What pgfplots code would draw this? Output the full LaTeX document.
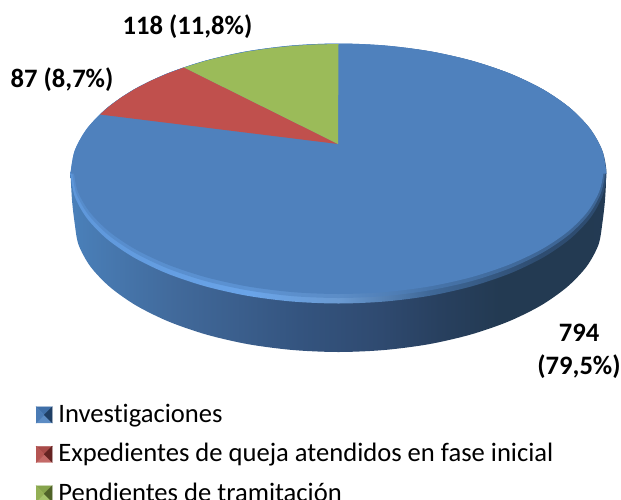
\documentclass[border=0pt]{standalone}
\usepackage{pgfplots}
\pgfplotsset{compat=1.18}
\usepackage{fontspec}
\setmainfont[Ligatures=NoCommon]{Carlito}
\definecolor{topblue}{HTML}{4F81BD}
\definecolor{sred}{HTML}{C0504D}
\definecolor{sgreen}{HTML}{9BBB59}
\definecolor{sa}{HTML}{4A80BA}\definecolor{sb}{HTML}{41699A}\definecolor{sc}{HTML}{34547F}
\definecolor{sd}{HTML}{2F4A70}\definecolor{se}{HTML}{28405F}\definecolor{sf}{HTML}{233A52}\definecolor{sg}{HTML}{223A54}
\definecolor{ra}{HTML}{5E97DA}\definecolor{rb}{HTML}{6AA4E8}\definecolor{rc}{HTML}{6A9AD2}
\definecolor{rd}{HTML}{3F6898}\definecolor{re}{HTML}{2E4C70}
\pgfdeclarehorizontalshading{sideshade}{100bp}{
 color(0bp)=(sa);color(25bp)=(sa);color(35bp)=(sb);color(46.4bp)=(sc);
 color(53.9bp)=(sd);color(59.4bp)=(se);color(65bp)=(sf);color(100bp)=(sg)}
\pgfdeclarehorizontalshading{rimshade}{100bp}{
 color(0bp)=(ra);color(25bp)=(ra);color(41.8bp)=(rb);color(50bp)=(rc);
 color(58.5bp)=(rd);color(68.8bp)=(re);color(100bp)=(re)}
\definecolor{ka}{HTML}{5C8CC4}\definecolor{kb}{HTML}{3F6FA8}\definecolor{kc}{HTML}{4A7BB5}\definecolor{kd}{HTML}{1F3F65}
\definecolor{la}{HTML}{C46A68}\definecolor{lb}{HTML}{A84A48}\definecolor{lc}{HTML}{B55552}\definecolor{ld}{HTML}{652322}
\definecolor{ma}{HTML}{A6C46C}\definecolor{mb}{HTML}{86A44C}\definecolor{mc}{HTML}{93B055}\definecolor{md}{HTML}{4F6328}
\newcommand{\pyr}[4]{%
 \fill[#1] (0pt,-9pt)--(16pt,-9pt)--(8pt,-1pt)--cycle;
 \fill[#2] (0pt,7pt)--(16pt,7pt)--(8pt,-1pt)--cycle;
 \fill[#3] (0pt,-9pt)--(0pt,7pt)--(8pt,-1pt)--cycle;
 \fill[#4] (16pt,-9pt)--(16pt,7pt)--(8pt,-1pt)--cycle;}
\begin{document}
\begin{tikzpicture}
\path[use as bounding box] (0,0) rectangle (621pt,499pt);
\begin{axis}[at={(0,0)},anchor=south west,scale only axis,width=621pt,height=499pt,
  xmin=0,xmax=621,ymin=0,ymax=499,y dir=reverse,hide axis,clip=false,
  legend cell align=left,
  legend style={at={(axis cs:36,403)},anchor=north west,draw=none,fill=none,
    font=\fontsize{26.6}{32}\selectfont,row sep=17.5pt,inner sep=0pt,outer sep=0pt,
    nodes={inner sep=1pt}}]
% side wall
\addplot[forget plot,draw=none,shading=sideshade,smooth] coordinates {
(70.5,173.5)(72,200)(74.5,222)(78.5,244.6)(90.4,266.5)(109.9,287)(136.3,305.6)(168.8,321.6)(206.5,334.6)(248.2,344.2)(292.7,350)(338.5,352)
(384.3,350)(428.8,344.2)(470.5,334.6)(508.2,321.6)(540.7,305.6)(567.1,287)(586.6,266.5)(598.5,244.6)(602.5,222)(605,200)(606.5,173.5)} --cycle;
% rim
\addplot[forget plot,draw=none,shading=rimshade,smooth] coordinates {
(70.5,173.5)(74.6,196.1)(86.7,218)(106.4,238.5)(133.2,257.1)(166.2,273.1)(204.5,286.1)(246.8,295.7)(292,301.5)(338.5,303.5)
(385,301.5)(430.2,295.7)(472.5,286.1)(510.8,273.1)(543.8,257.1)(570.6,238.5)(590.3,218)(602.4,196.1)(606.5,173.5)
(602.4,150.9)(590.3,129)(570.6,108.5)(543.8,89.9)(510.8,73.9)(472.5,60.9)(430.2,51.3)(385,45.5)(338.5,43.5)
(292,45.5)(246.8,51.3)(204.5,60.9)(166.2,73.9)(133.2,89.9)(106.4,108.5)(86.7,129)(74.6,150.9)(70.5,173.5)} --cycle;
% soft edge
\addplot[forget plot,draw=none,fill=topblue,fill opacity=0.5,smooth] coordinates {
(72,171)(76.1,193)(88.1,214.4)(107.7,234.5)(134.4,252.6)(167.2,268.3)(205.2,281)(247.4,290.3)(292.2,296.1)(338.5,298)
(384.8,296.1)(429.6,290.3)(471.8,281)(509.8,268.3)(542.6,252.6)(569.3,234.5)(588.9,214.4)(600.9,193)(605,171)
(600.9,149)(588.9,127.6)(569.3,107.5)(542.6,89.4)(509.8,73.7)(471.8,61)(429.6,51.7)(384.8,45.9)(338.5,44)
(292.2,45.9)(247.4,51.7)(205.2,61)(167.2,73.7)(134.4,89.4)(107.7,107.5)(88.1,127.6)(76.1,149)(72,171)} --cycle;
% upper half of the face out to the full edge
\addplot[forget plot,draw=none,fill=topblue,smooth] coordinates {
(606.5,173.5)(602.4,150.9)(590.3,129)(570.6,108.5)(543.8,89.9)(510.8,73.9)(472.5,60.9)(430.2,51.3)(385,45.5)(338.5,43.5)
(292,45.5)(246.8,51.3)(204.5,60.9)(166.2,73.9)(133.2,89.9)(106.4,108.5)(86.7,129)(74.6,150.9)(70.5,173.5)} --cycle;
% top face
\addplot[forget plot,draw=none,fill=topblue,smooth] coordinates {
(73.5,169)(77.5,190.7)(89.5,211.75)(109,231.5)(135.5,249.35)(168.2,264.75)(206,277.25)(247.9,286.5)(292.5,292.1)(338.5,294)
(384.5,292.1)(429.1,286.5)(471,277.25)(508.8,264.75)(541.5,249.35)(568,231.5)(587.5,211.75)(599.5,190.7)(603.5,169)
(599.5,147.3)(587.5,126.25)(568,106.5)(541.5,88.65)(508.8,73.25)(471,60.75)(429.1,51.5)(384.5,45.9)(338.5,44)
(292.5,45.9)(247.9,51.5)(206,60.75)(168.2,73.25)(135.5,88.65)(109,106.5)(89.5,126.25)(77.5,147.3)(73.5,169)} --cycle;
% slices
\addplot[forget plot,draw=none,fill=sred] coordinates {
(338,144)(100,114.5)(109,106.5)(121.4,97.3)(135.5,88.65)(151.1,80.6)(168.2,73.25)(184,67.5)} --cycle;
\addplot[forget plot,draw=none,fill=sgreen] coordinates {
(338,144)(184,67.5)(206,60.75)(226.5,55.7)(247.9,51.5)(269.9,48.3)(292.5,45.9)(315.4,44.5)(338.5,44)} --cycle;
% labels
\node[font=\fontsize{26.6}{32}\selectfont\bfseries,anchor=center] at (axis cs:187.5,27) {118 (11,8\%)};
\node[font=\fontsize{26.6}{32}\selectfont\bfseries,anchor=center] at (axis cs:62,80) {87 (8,7\%)};
\node[font=\fontsize{26.6}{32}\selectfont\bfseries,anchor=center] at (axis cs:579,333) {794};
\node[font=\fontsize{26.6}{32}\selectfont\bfseries,anchor=center] at (axis cs:579,367) {(79,5\%)};
% legend
\addlegendimage{legend image code/.code={\pyr{ka}{kb}{kc}{kd}}}
\addlegendentry{\hspace{5pt}Investigaciones}
\addlegendimage{legend image code/.code={\pyr{la}{lb}{lc}{ld}}}
\addlegendentry{\hspace{5pt}Expedientes de queja atendidos en fase inicial}
\addlegendimage{legend image code/.code={\pyr{ma}{mb}{mc}{md}}}
\addlegendentry{\hspace{5pt}Pendientes de tramitación}
\end{axis}
\end{tikzpicture}
\end{document}
